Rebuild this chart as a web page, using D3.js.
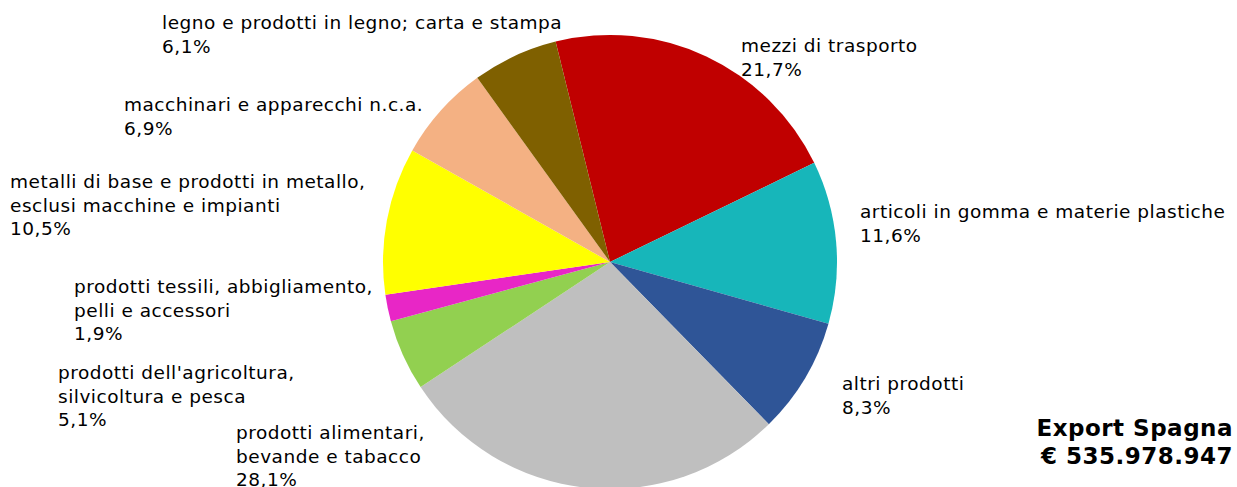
<!DOCTYPE html>
<html>
<head>
<meta charset="utf-8">
<script src="https://cdn.jsdelivr.net/npm/d3@7"></script>
<style>
  body { margin: 0; background: #fff; }
  text { font-family: "DejaVu Sans", Verdana, sans-serif; fill: #000; }
</style>
</head>
<body>
<div id="chart"></div>
<script>
// Export Spagna - composition by sector (share %)
const categories = [
  'mezzi di trasporto',
  'articoli in gomma e materie plastiche',
  'altri prodotti',
  'prodotti alimentari, bevande e tabacco',
  "prodotti dell'agricoltura, silvicoltura e pesca",
  'prodotti tessili, abbigliamento, pelli e accessori',
  'metalli di base e prodotti in metallo, esclusi macchine e impianti',
  'macchinari e apparecchi n.c.a.',
  'legno e prodotti in legno; carta e stampa'
]
const values = [21.7, 11.6, 8.3, 28.1, 5.1, 1.9, 10.5, 6.9, 6.1]
const valueLabels = ['21,7%', '11,6%', '8,3%', '28,1%', '5,1%', '1,9%', '10,5%', '6,9%', '6,1%']
// how each label is broken into lines
const labelLines = [
  ['mezzi di trasporto'],
  ['articoli in gomma e materie plastiche'],
  ['altri prodotti'],
  ['prodotti alimentari,', 'bevande e tabacco'],
  ["prodotti dell'agricoltura,", 'silvicoltura e pesca'],
  ['prodotti tessili, abbigliamento,', 'pelli e accessori'],
  ['metalli di base e prodotti in metallo,', 'esclusi macchine e impianti'],
  ['macchinari e apparecchi n.c.a.'],
  ['legno e prodotti in legno; carta e stampa']
]
const colors = ['#C00000', '#17B6BA', '#2F5597', '#BFBFBF', '#92D050', '#E826C6', '#FFFF00', '#F4B183', '#7F6000']
const titleLines = ['Export Spagna', '€ 535.978.947']

const width = 1237,
  height = 487,
  cx = 610,
  cy = 262,
  radius = 227,
  lineH = 23.5

// label anchor spots (left x, centre of first line)
const labelPos = [
  [741, 45], [860, 211], [842, 383], [236, 432], [58, 372],
  [74, 286], [10, 181], [124, 104], [162, 22]
]

let svg = d3.select('#chart')
  .append('svg')
  .attr('width', width)
  .attr('height', height)

const data = categories.map((c, i) => ({ name: c, value: values[i], i: i }))

const pie = d3.pie()
  .sort(null)
  .value(d => d.value)
  .startAngle(-0.242)
  .endAngle(-0.242 + 2 * Math.PI)

const arc = d3.arc().innerRadius(0).outerRadius(radius)

svg.append('g')
  .attr('transform', `translate(${cx},${cy})`)
  .selectAll('path')
  .data(pie(data))
  .enter()
  .append('path')
  .attr('d', arc)
  .attr('fill', d => colors[d.data.i])

// labels
const lab = svg.append('g')
data.forEach((d, i) => {
  const lines = labelLines[i].concat([valueLabels[i]])
  const t = lab.append('text')
    .attr('x', labelPos[i][0])
    .attr('y', labelPos[i][1])
    .attr('dominant-baseline', 'central')
    .style('font-size', '18.5px')
    .style('letter-spacing', '0.5px')
  lines.forEach((l, j) => {
    t.append('tspan')
      .attr('x', labelPos[i][0])
      .attr('y', labelPos[i][1] + j * lineH)
      .text(l)
  })
})

// title block bottom right
svg.append('g')
  .selectAll('text')
  .data(titleLines)
  .enter()
  .append('text')
  .attr('x', 1233)
  .attr('y', (d, i) => 428 + i * 28)
  .attr('text-anchor', 'end')
  .attr('dominant-baseline', 'central')
  .style('font-size', '23px')
  .style('font-weight', 'bold')
  .style('letter-spacing', '0.5px')
  .text(d => d)
</script>
</body>
</html>
